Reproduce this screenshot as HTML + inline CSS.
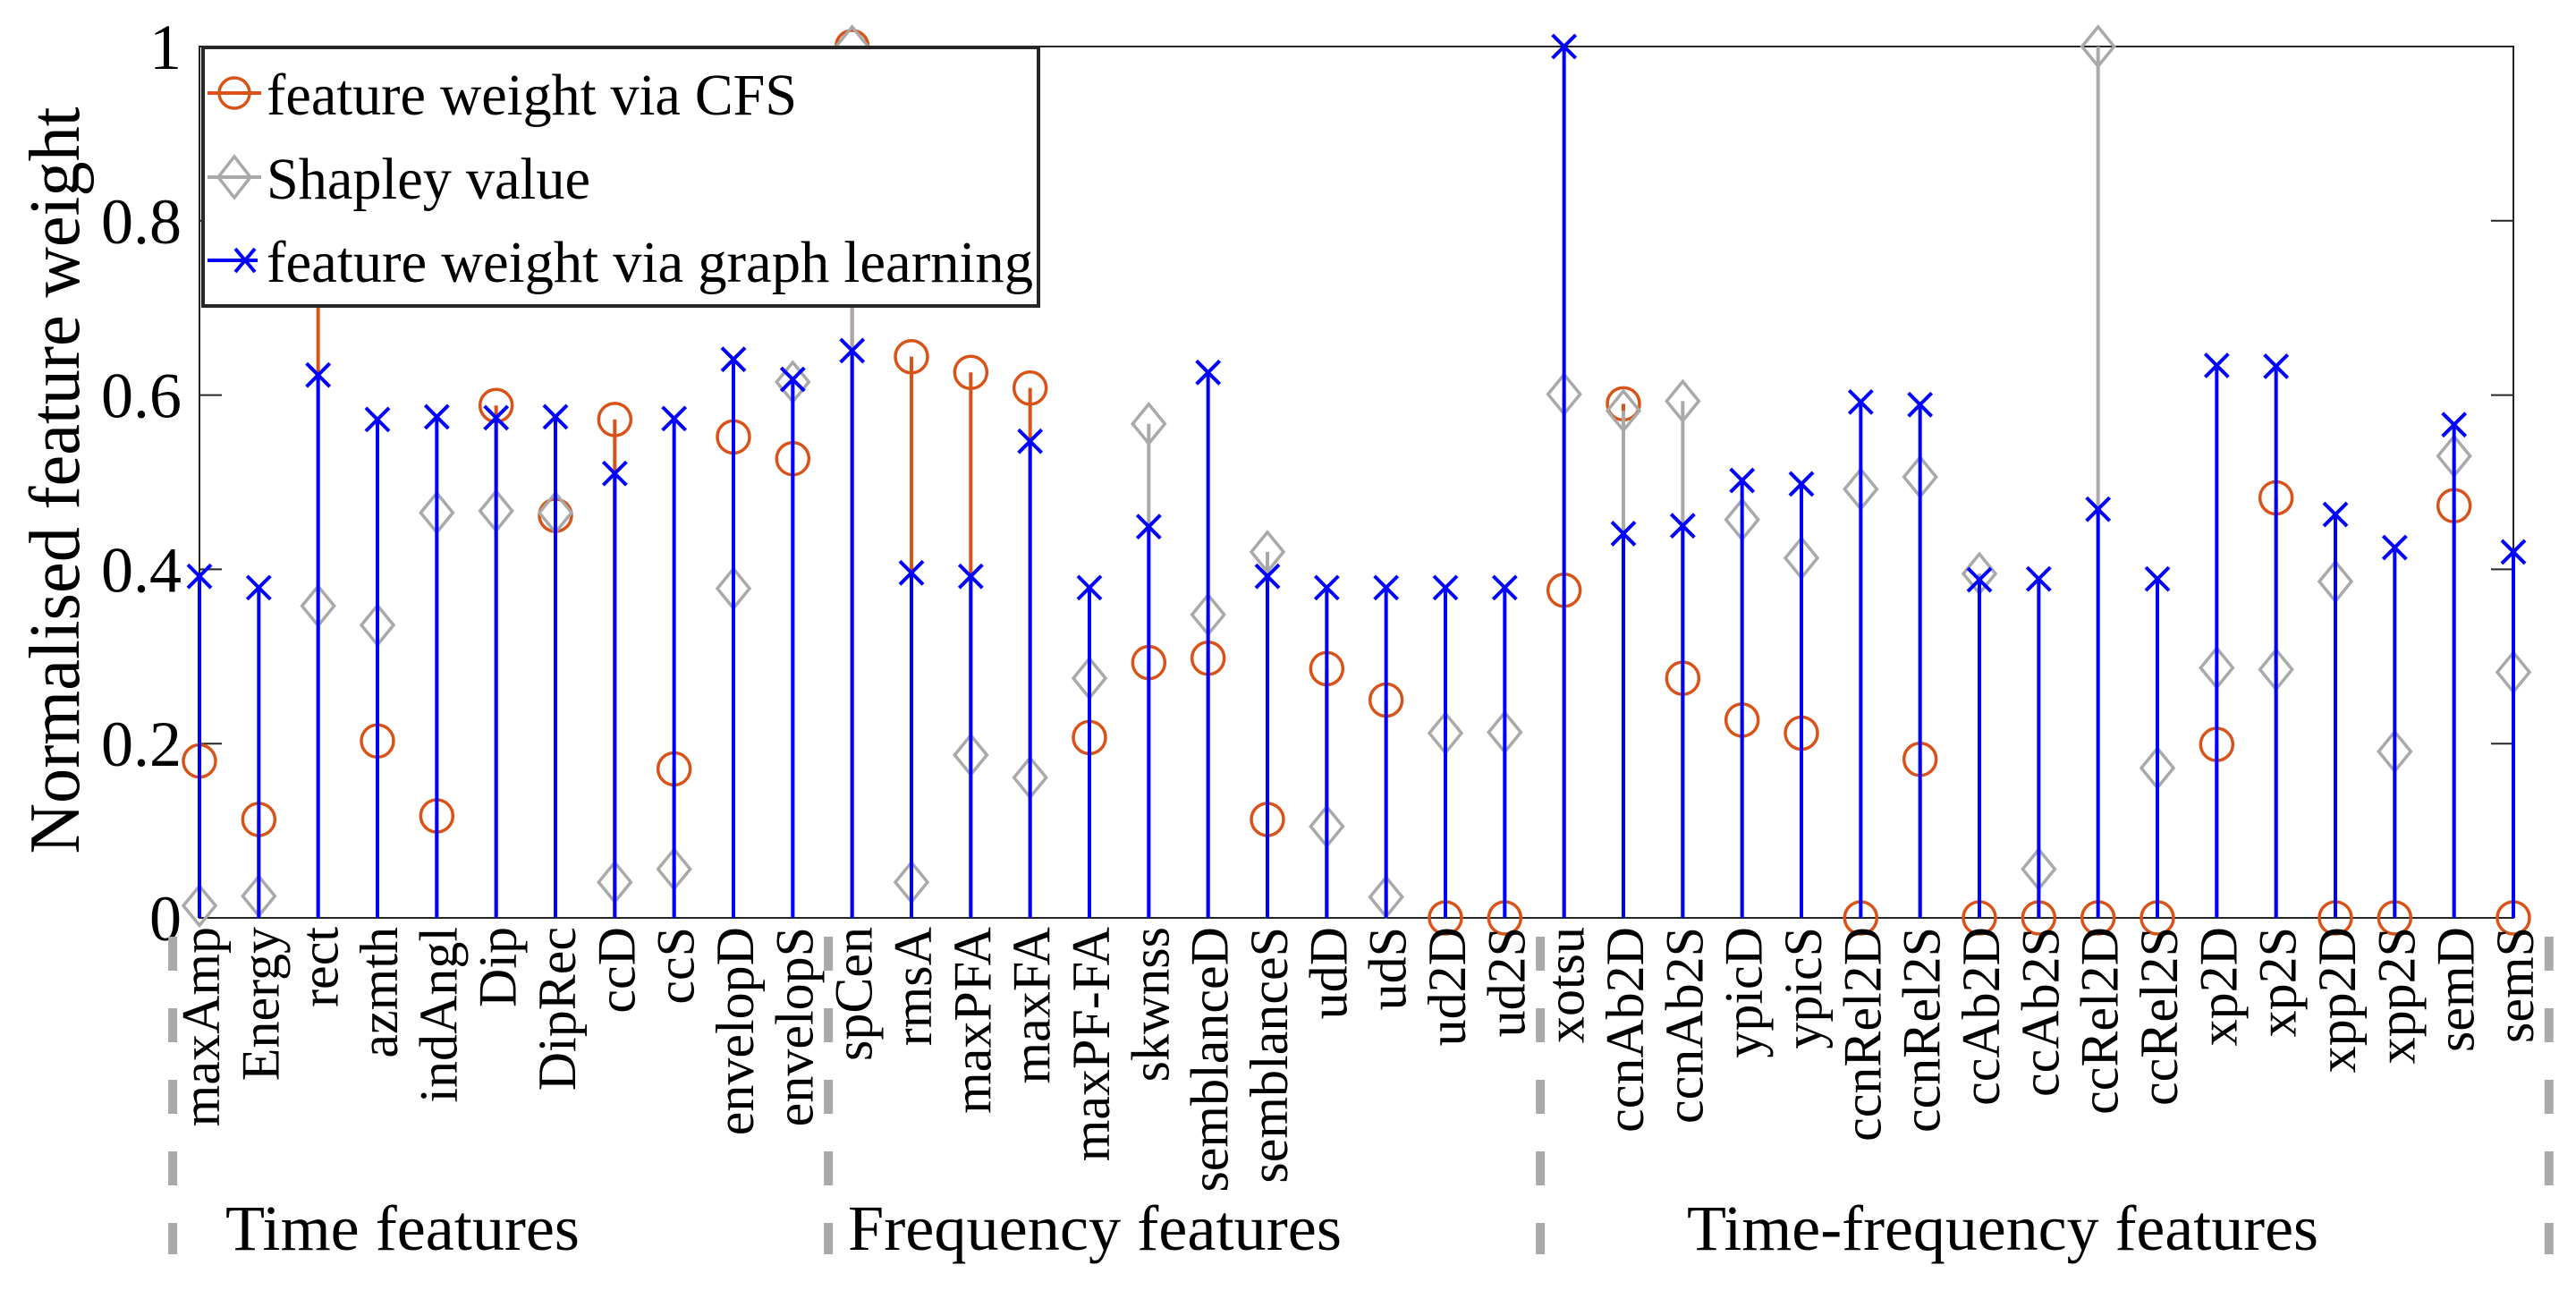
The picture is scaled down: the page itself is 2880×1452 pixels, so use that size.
<!DOCTYPE html>
<html><head><meta charset="utf-8"><style>
html,body{margin:0;padding:0;background:#fff;}
svg{display:block;font-family:"Liberation Serif","Times New Roman",serif;}
</style></head><body>
<svg id="chart" width="2880" height="1452" viewBox="0 0 2880 1452" xmlns="http://www.w3.org/2000/svg">
<rect x="0" y="0" width="2880" height="1452" fill="#fff"/>
<g id="grid"></g>
<g id="marks"></g>
<g id="labels"></g>
<text transform="translate(88,537) rotate(-90)" text-anchor="middle" font-size="80" textLength="835" lengthAdjust="spacingAndGlyphs">Normalised feature weight</text>
<g>
<text x="252" y="1397" font-size="72" textLength="396" lengthAdjust="spacingAndGlyphs">Time features</text>
<text x="948" y="1397" font-size="72" textLength="552" lengthAdjust="spacingAndGlyphs">Frequency features</text>
<text x="1886" y="1397" font-size="72" textLength="706" lengthAdjust="spacingAndGlyphs">Time-frequency features</text>
</g>
<g>
<rect x="227" y="53" width="934" height="289" fill="#fff" stroke="#262626" stroke-width="4"/>
<g>
<line x1="232" y1="104" x2="292" y2="104" stroke="#D95319" stroke-width="4"/>
<circle cx="262" cy="104" r="17" fill="none" stroke="#D95319" stroke-width="3.5"/>
<text x="298" y="128" font-size="66" textLength="593" lengthAdjust="spacingAndGlyphs">feature weight via CFS</text>
</g>
<g>
<line x1="232" y1="198" x2="292" y2="198" stroke="#A9A9A9" stroke-width="4"/>
<polygon points="272,175 290,198 272,221 254,198" transform="translate(-10,0)" fill="none" stroke="#A9A9A9" stroke-width="3.5"/>
<text x="298" y="222" font-size="66" textLength="362" lengthAdjust="spacingAndGlyphs">Shapley value</text>
</g>
<g>
<line x1="232" y1="291" x2="288" y2="291" stroke="#0000FF" stroke-width="4"/>
<path d="M253,278 L275,304 M253,304 L275,278" stroke="#0000FF" stroke-width="4" transform="translate(10,0)"/>
<text x="298" y="315" font-size="66" textLength="857" lengthAdjust="spacingAndGlyphs">feature weight via graph learning</text>
</g>
</g>
</svg>
<script>
const features = ["maxAmp","Energy","rect","azmth","indAngl","Dip","DipRec","ccD","ccS","envelopD","envelopS","spCen","rmsA","maxPFA","maxFA","maxPF-FA","skwnss","semblanceD","semblanceS","udD","udS","ud2D","ud2S","xotsu","ccnAb2D","ccnAb2S","ypicD","ypicS","ccnRel2D","ccnRel2S","ccAb2D","ccAb2S","ccRel2D","ccRel2S","xp2D","xp2S","xpp2D","xpp2S","semD","semS"];
const cfsWeights = [0.18,0.113,0.85,0.203,0.117,0.588,0.462,0.572,0.171,0.552,0.527,1.0,0.644,0.626,0.608,0.207,0.293,0.298,0.113,0.286,0.25,0,0,0.376,0.59,0.275,0.227,0.212,0,0.182,0,0,0,0,0.199,0.482,0,0,0.473,0];
const shapleyValues = [0.014,0.025,0.358,0.336,0.465,0.467,0.465,0.041,0.056,0.378,0.615,1.0,0.041,0.187,0.161,0.275,0.567,0.348,0.42,0.105,0.024,0.212,0.213,0.601,0.582,0.593,0.457,0.413,0.492,0.506,0.395,0.056,1.0,0.172,0.287,0.285,0.386,0.191,0.53,0.282];
const graphWeights = [0.392,0.379,0.623,0.572,0.575,0.574,0.575,0.51,0.573,0.641,0.618,0.651,0.396,0.392,0.547,0.379,0.449,0.626,0.392,0.379,0.379,0.379,0.379,1.0,0.441,0.45,0.502,0.498,0.592,0.589,0.388,0.389,0.469,0.389,0.634,0.633,0.463,0.425,0.566,0.42];
const yTicks = [0,0.2,0.4,0.6,0.8,1];
const yTickLabels = ["0","0.2","0.4","0.6","0.8","1"];
const groupSeparators = [0.7,11.6,23.6,40.6];

const NS="http://www.w3.org/2000/svg";
const X0=223, X1=2810, Y0=1026, Y1=52;
function xs(i){return X0+(X1-X0)*i/(features.length-1);}
function ys(v){return Y0-(Y0-Y1)*v;}
function mk(tag,attrs,parent){const e=document.createElementNS(NS,tag);for(const k in attrs)e.setAttribute(k,attrs[k]);parent.appendChild(e);return e;}
const grid=document.getElementById('grid'), marks=document.getElementById('marks'), labels=document.getElementById('labels');

let ax=mk('path',{d:`M${X0},${Y1} L${X0},${Y0} L${X1},${Y0} L${X1},${Y1} Z`,fill:'none',stroke:'#262626','stroke-width':2},grid);


yTicks.forEach((t,k)=>{
  const y=ys(t);
  let a=mk('line',{x1:X0,y1:y,x2:X0+25,y2:y,stroke:'#262626','stroke-width':2},grid);
  
  
  let b=mk('line',{x1:X1,y1:y,x2:X1-25,y2:y,stroke:'#262626','stroke-width':2},grid);
  
  
  let tx=mk('text',{x:203,y:y+25,'text-anchor':'end','font-size':72},grid);
  tx.textContent=yTickLabels[k];
  
  
});
groupSeparators.forEach(g=>{
  const x=X0+(X1-X0)*(g-1)/(features.length-1)+ (g<1?-10:0);
  let l=mk('line',{x1:x,y1:1047,x2:x,y2:1402,stroke:'#A9A9A9','stroke-width':10,'stroke-dasharray':'38 42'},grid);
  
  
});

features.forEach((f,i)=>{
  const x=xs(i);
  let s1=mk('line',{x1:x,y1:Y0,x2:x,y2:ys(cfsWeights[i]),stroke:'#D95319','stroke-width':4},marks);
  
  
  let c=mk('circle',{cx:x,cy:ys(cfsWeights[i]),r:18,fill:'none',stroke:'#D95319','stroke-width':3.5},marks);
  
  
});
features.forEach((f,i)=>{
  const x=xs(i), y=ys(shapleyValues[i]);
  let s2=mk('line',{x1:x,y1:Y0,x2:x,y2:y,stroke:'#A9A9A9','stroke-width':4},marks);
  
  
  let d=mk('polygon',{points:`${x},${y-22} ${x+18},${y} ${x},${y+22} ${x-18},${y}`,fill:'none',stroke:'#A9A9A9','stroke-width':3.5},marks);
  
  
});
features.forEach((f,i)=>{
  const x=xs(i), y=ys(graphWeights[i]);
  let s3=mk('line',{x1:x,y1:Y0,x2:x,y2:y,stroke:'#0000FF','stroke-width':4},marks);
  
  
  let m=mk('path',{d:`M${x-13},${y-13} L${x+13},${y+13} M${x-13},${y+13} L${x+13},${y-13}`,stroke:'#0000FF','stroke-width':4},marks);
  
  
  let t=mk('text',{transform:`translate(${x+22},1036) rotate(-90)`,'text-anchor':'end','font-size':60},labels);
  t.textContent=f;
  
  
});
</script>
</body></html>
